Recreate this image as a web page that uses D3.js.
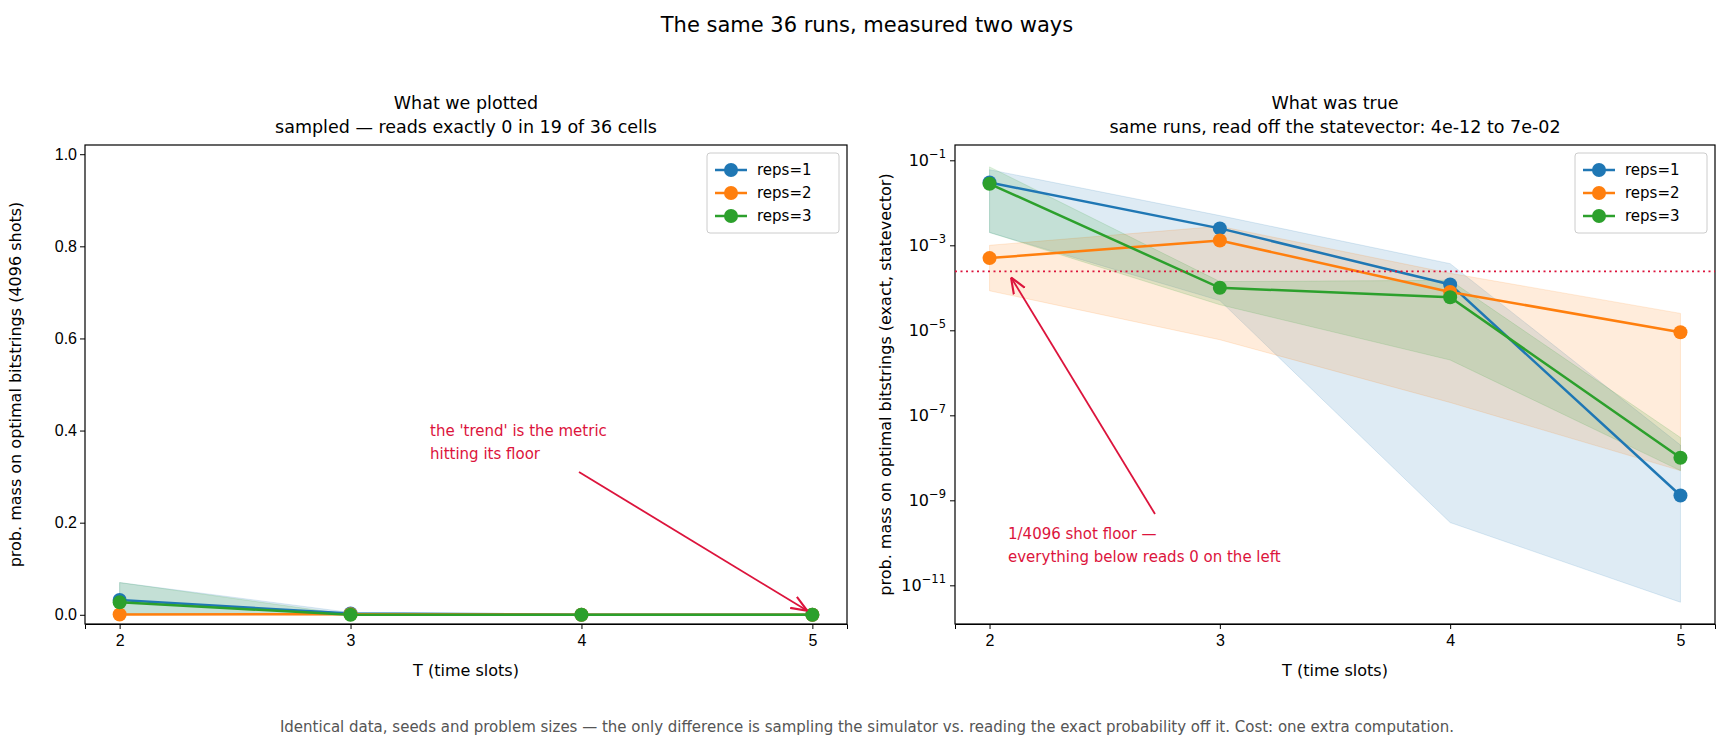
<!DOCTYPE html>
<html><head><meta charset="utf-8">
<script src="https://cdn.jsdelivr.net/npm/d3@7"></script>
<style>body{margin:0;background:#fff;font-family:"DejaVu Sans",sans-serif}</style>
</head><body><svg id="c" width="1734" height="749"></svg>
<script>
const T = [2,3,4,5];
const seriesNames = ["reps=1","reps=2","reps=3"];
const colors = ["#1f77b4","#ff7f0e","#2ca02c"];
// sampled (left)
const sampled = [[0.032,0.0027,0.0002,0],[0.0007,0.0012,0,0],[0.027,0,0,0]];
const sampledLo = [[0.002,0,0,0],[0,0,0,0],[0.002,0,0,0]];
const sampledHi = [[0.07,0.005,0.0004,0],[0.001,0.0025,0.0002,0],[0.07,0.0001,0.0002,0]];
// exact (right)
const exact = [[0.03,2.5e-3,1.2e-4,1.3e-9],[5e-4,1.3e-3,8e-5,9e-6],[2.8e-2,1e-4,6e-5,1e-8]];
const exactLo = [[2e-3,5e-5,3e-10,4e-12],[8.5e-5,6e-6,2e-7,5e-9],[2e-3,4e-5,2e-6,5e-9]];
const exactHi = [[6e-2,5e-3,3.7e-4,2e-8],[1e-3,2.8e-3,2.2e-4,2.5e-5],[7e-2,1.4e-4,1.5e-4,3e-8]];
const floorVal = 1/4096;
const leftYTicks = [0,0.2,0.4,0.6,0.8,1.0];
const rightYTicks = [1e-11,1e-9,1e-7,1e-5,1e-3,1e-1];

const svg = d3.select("#c");
const yTop=145, yBot=624;
svg.append("defs").html('<marker id="ah" viewBox="0 0 10 10" refX="10" refY="5" markerWidth="9" markerHeight="9" orient="auto-start-reverse"><path d="M0,1 L10,5 L0,9" fill="none" stroke="#dc143c" stroke-width="1.3"/></marker>');
svg.append("text").attr("x",867).attr("y",32).attr("text-anchor","middle").attr("font-size",21).text("The same 36 runs, measured two ways");
svg.append("text").attr("x",867).attr("y",732).attr("text-anchor","middle").attr("font-size",15).attr("fill","#555")
 .text("Identical data, seeds and problem sizes — the only difference is sampling the simulator vs. reading the exact probability off it. Cost: one extra computation.");

function panel(x0,x1,y,lo,hi,vals,title1,title2,ylabel,isLog){
  const g=svg.append("g");
  const x=d3.scaleLinear().domain([1.85,5.15]).range([x0,x1]);
  g.append("text").attr("x",(x0+x1)/2).attr("y",yTop-36).attr("text-anchor","middle").attr("font-size",17.5).text(title1);
  g.append("text").attr("x",(x0+x1)/2).attr("y",yTop-12).attr("text-anchor","middle").attr("font-size",17.5).text(title2);
  const yy = d=> y(isLog? Math.max(d,1e-13):d);
  for(let s=0;s<3;s++){
    const area=d3.area().x((d,i)=>x(T[i])).y0((d,i)=>yy(lo[s][i])).y1((d,i)=>yy(hi[s][i]));
    g.append("path").attr("d",area(T)).attr("fill",colors[s]).attr("fill-opacity",0.15).attr("stroke",colors[s]).attr("stroke-opacity",0.15);
  }
  for(let s=0;s<3;s++){
    const line=d3.line().x((d,i)=>x(T[i])).y(d=>yy(d));
    g.append("path").attr("d",line(vals[s])).attr("fill","none").attr("stroke",colors[s]).attr("stroke-width",2.5);
    g.selectAll(null).data(vals[s]).enter().append("circle").attr("cx",(d,i)=>x(T[i])).attr("cy",d=>yy(d)).attr("r",7).attr("fill",colors[s]);
  }
  const xa=g.append("g").attr("transform",`translate(0,${yBot})`).call(d3.axisBottom(x).tickValues(T).tickFormat(d3.format("d")).tickSizeOuter(0).tickSize(5));
  xa.selectAll("text").attr("font-size",16).attr("dy","0.9em");
  g.append("text").attr("x",(x0+x1)/2).attr("y",yBot+52).attr("text-anchor","middle").attr("font-size",16).text("T (time slots)");
  g.append("text").attr("transform",`translate(${x0-64},${(yTop+yBot)/2}) rotate(-90)`).attr("text-anchor","middle").attr("font-size",16).text(ylabel);
  g.append("rect").attr("x",x0).attr("y",yTop).attr("width",x1-x0).attr("height",yBot-yTop).attr("fill","none").attr("stroke","#000").attr("stroke-width",1.2);
  const lx=x1-140, ly=yTop+8;
  g.append("rect").attr("x",lx).attr("y",ly).attr("width",132).attr("height",80).attr("rx",3).attr("fill","#fff").attr("fill-opacity",0.8).attr("stroke","#ccc");
  seriesNames.forEach((n,i)=>{
    const cy=ly+17+i*23;
    g.append("line").attr("x1",lx+8).attr("x2",lx+40).attr("y1",cy).attr("y2",cy).attr("stroke",colors[i]).attr("stroke-width",2.5);
    g.append("circle").attr("cx",lx+24).attr("cy",cy).attr("r",7).attr("fill",colors[i]);
    g.append("text").attr("x",lx+50).attr("y",cy+5).attr("font-size",15).text(n);
  });
  return {g,x};
}

const yL=d3.scaleLinear().domain([-0.02,1.02]).range([yBot,yTop]);
const L=panel(85,847,yL,sampledLo,sampledHi,sampled,"What we plotted","sampled — reads exactly 0 in 19 of 36 cells","prob. mass on optimal bitstrings (4096 shots)",false);
const ya=L.g.append("g").attr("transform","translate(85,0)").call(d3.axisLeft(yL).tickValues(leftYTicks).tickFormat(d3.format(".1f")).tickSizeOuter(0).tickSize(5));
ya.selectAll("text").attr("font-size",16); ya.select(".domain").remove();
L.g.append("text").attr("x",430).attr("y",436).attr("font-size",15).attr("fill","#dc143c").text("the 'trend' is the metric");
L.g.append("text").attr("x",430).attr("y",459).attr("font-size",15).attr("fill","#dc143c").text("hitting its floor");
L.g.append("line").attr("x1",579).attr("y1",472).attr("x2",L.x(5)-5).attr("y2",yL(0)-4).attr("stroke","#dc143c").attr("stroke-width",1.8).attr("marker-end","url(#ah)");

const yR=d3.scaleLog().domain([Math.pow(10,-11.91),Math.pow(10,-0.64)]).range([yBot,yTop]);
const R=panel(955,1715,yR,exactLo,exactHi,exact,"What was true","same runs, read off the statevector: 4e-12 to 7e-02","prob. mass on optimal bitstrings (exact, statevector)",true);
const yra=R.g.append("g").attr("transform","translate(955,0)").call(d3.axisLeft(yR).tickValues(rightYTicks).tickFormat(()=>"").tickSizeOuter(0).tickSize(5));
yra.select(".domain").remove();
rightYTicks.forEach(t=>{
  const e=Math.round(Math.log10(t));
  const tx=R.g.append("text").attr("x",946).attr("y",yR(t)+6).attr("text-anchor","end").attr("font-size",16);
  tx.append("tspan").text("10");
  tx.append("tspan").attr("dy",-8).attr("font-size",11.5).text("−"+(-e));
});
R.g.append("line").attr("x1",955).attr("x2",1715).attr("y1",yR(floorVal)).attr("y2",yR(floorVal)).attr("stroke","#dc143c").attr("stroke-width",1.8).attr("stroke-dasharray","2,3.5");
R.g.append("text").attr("x",1008).attr("y",539).attr("font-size",15).attr("fill","#dc143c").text("1/4096 shot floor —");
R.g.append("text").attr("x",1008).attr("y",562).attr("font-size",15).attr("fill","#dc143c").text("everything below reads 0 on the left");
R.g.append("line").attr("x1",1155).attr("y1",514).attr("x2",1011).attr("y2",yR(floorVal)+6).attr("stroke","#dc143c").attr("stroke-width",1.8).attr("marker-end","url(#ah)");
</script></body></html>
